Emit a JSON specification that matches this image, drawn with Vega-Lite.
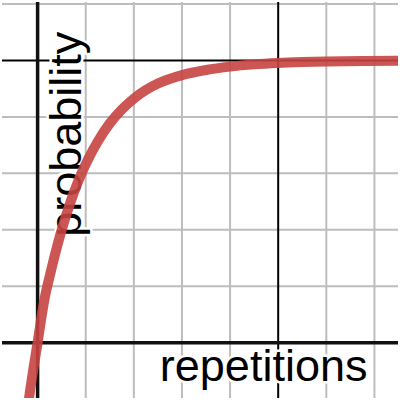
{
  "$schema": "https://vega.github.io/schema/vega-lite/v6.json",
  "width": 400,
  "height": 400,
  "autosize": {"type": "fit", "contains": "padding"},
  "padding": 0,
  "background": "white",
  "config": {"view": {"stroke": null}},
  "datasets": {
    "gridx": [{"v": 0.2}, {"v": 0.4}, {"v": 0.6}, {"v": 0.8}, {"v": 1.2}, {"v": 1.4}],
    "gridy": [{"v": 0.2}, {"v": 0.4}, {"v": 0.6}, {"v": 0.8}, {"v": 1.2}],
    "one": [{"v": 1}],
    "zero": [{"v": 0}],
    "curve": [
      {"x": -0.05, "y": -0.284}, {"x": -0.03, "y": -0.162}, {"x": -0.015, "y": -0.078},
      {"x": 0, "y": 0}, {"x": 0.015, "y": 0.085}, {"x": 0.03, "y": 0.16},
      {"x": 0.05, "y": 0.235}, {"x": 0.07, "y": 0.305}, {"x": 0.095, "y": 0.385},
      {"x": 0.12, "y": 0.455}, {"x": 0.15, "y": 0.53}, {"x": 0.18, "y": 0.595},
      {"x": 0.21, "y": 0.65}, {"x": 0.25, "y": 0.713}, {"x": 0.3, "y": 0.777},
      {"x": 0.35, "y": 0.826}, {"x": 0.4, "y": 0.865}, {"x": 0.45, "y": 0.895},
      {"x": 0.5, "y": 0.918}, {"x": 0.6, "y": 0.948}, {"x": 0.7, "y": 0.966},
      {"x": 0.8, "y": 0.978}, {"x": 0.9, "y": 0.986}, {"x": 1.0, "y": 0.991},
      {"x": 1.1, "y": 0.994}, {"x": 1.2, "y": 0.996}, {"x": 1.35, "y": 0.998},
      {"x": 1.5, "y": 0.999}
    ],
    "labels": [
      {"x": 0.508, "y": -0.137, "t": "repetitions", "a": 0},
      {"x": 0.18, "y": 0.375, "t": "probability", "a": 270}
    ]
  },
  "layer": [
    {
      "data": {"name": "gridx"},
      "mark": {"type": "rule", "color": "#bdbdbd", "strokeWidth": 2},
      "encoding": {"x": {"field": "v", "type": "quantitative", "scale": {"domain": [-0.148, 1.498], "nice": false, "zero": false}, "axis": null}}
    },
    {
      "data": {"name": "gridy"},
      "mark": {"type": "rule", "color": "#bdbdbd", "strokeWidth": 2},
      "encoding": {"y": {"field": "v", "type": "quantitative", "scale": {"domain": [-0.196, 1.207], "nice": false, "zero": false}, "axis": null}}
    },
    {
      "data": {"name": "one"},
      "mark": {"type": "rule", "color": "#000000", "strokeWidth": 2},
      "encoding": {"x": {"field": "v", "type": "quantitative"}}
    },
    {
      "data": {"name": "one"},
      "mark": {"type": "rule", "color": "#000000", "strokeWidth": 2},
      "encoding": {"y": {"field": "v", "type": "quantitative"}}
    },
    {
      "data": {"name": "zero"},
      "mark": {"type": "rule", "color": "#111111", "strokeWidth": 3.5},
      "encoding": {"x": {"field": "v", "type": "quantitative"}}
    },
    {
      "data": {"name": "zero"},
      "mark": {"type": "rule", "color": "#111111", "strokeWidth": 3.5},
      "encoding": {"y": {"field": "v", "type": "quantitative"}}
    },
    {
      "data": {"name": "labels"},
      "mark": {"type": "text", "font": "Liberation Sans", "fontSize": 45, "align": "left", "baseline": "alphabetic", "fill": "white", "stroke": "white", "strokeWidth": 5, "strokeJoin": "round"},
      "encoding": {
        "x": {"field": "x", "type": "quantitative"},
        "y": {"field": "y", "type": "quantitative"},
        "text": {"field": "t"},
        "angle": {"field": "a", "type": "quantitative", "scale": null}
      }
    },
    {
      "data": {"name": "labels"},
      "mark": {"type": "text", "font": "Liberation Sans", "fontSize": 45, "align": "left", "baseline": "alphabetic", "fill": "black"},
      "encoding": {
        "x": {"field": "x", "type": "quantitative"},
        "y": {"field": "y", "type": "quantitative"},
        "text": {"field": "t"},
        "angle": {"field": "a", "type": "quantitative", "scale": null}
      }
    },
    {
      "data": {"name": "curve"},
      "mark": {"type": "line", "color": "#c74440", "opacity": 0.9, "strokeWidth": 10, "interpolate": "monotone", "clip": true, "strokeCap": "butt"},
      "encoding": {
        "x": {"field": "x", "type": "quantitative"},
        "y": {"field": "y", "type": "quantitative"}
      }
    }
  ]
}
